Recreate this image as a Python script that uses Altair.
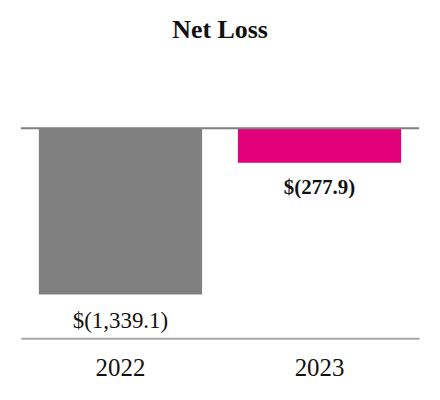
import altair as alt
import pandas as pd

years = ["2022", "2023"]
values = [-1339.1, -277.9]
labels = ["$(1,339.1)", "$(277.9)"]
colors = ["#808080", "#E2007A"]
bold = [False, True]

df = pd.DataFrame({"year": years, "value": values, "label": labels, "color": colors, "bold": bold})

FONT = "Liberation Serif"

x = alt.X("year:N", title=None, sort=years,
          scale=alt.Scale(paddingInner=0.18, paddingOuter=0.09),
          axis=alt.Axis(labelAngle=0, ticks=False, domainColor="#a6a6a6", domainWidth=2,
                        labelFontSize=25, labelFont=FONT, labelColor="#111111",
                        labelPadding=17))
y = alt.Y("value:Q", title=None, scale=alt.Scale(domain=[-1692, 0], nice=False),
          axis=None)

base = alt.Chart(df)

bars = base.mark_bar().encode(x=x, y=y, color=alt.Color("color:N", scale=None))

zero = alt.Chart(pd.DataFrame({"z": [0]})).mark_rule(color="#7f7f7f", strokeWidth=2).encode(
    y=alt.Y("z:Q", scale=alt.Scale(domain=[-1692, 0], nice=False), axis=None)
)

txt_normal = base.transform_filter("!datum.bold").mark_text(
    font=FONT, fontSize=23, fontWeight="normal", baseline="middle", dy=27, color="#111111"
).encode(x=x, y=y, text="label:N")

txt_bold = base.transform_filter("datum.bold").mark_text(
    font=FONT, fontSize=21, fontWeight="bold", baseline="middle", dy=25, color="#111111"
).encode(x=x, y=y, text="label:N")

chart = alt.layer(bars, zero, txt_normal, txt_bold).properties(
    width=400, height=211,
    title=alt.TitleParams("Net Loss", font=FONT, fontSize=26, fontWeight="bold",
                          color="#111111", anchor="middle", offset=85),
    padding={"left": 12, "right": 12, "top": 8, "bottom": 5},
).configure_view(stroke=None)

chart.save("out.html", embed_options={"renderer": "svg", "actions": False})
